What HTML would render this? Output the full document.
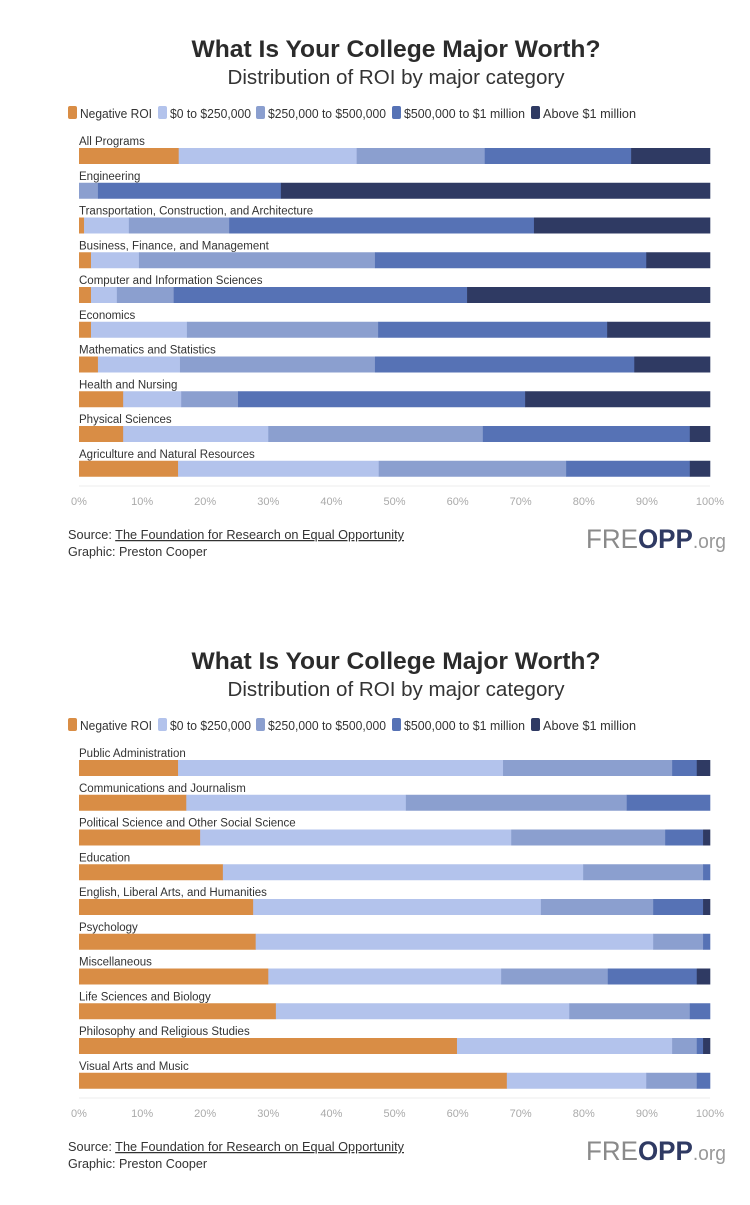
<!DOCTYPE html>
<html><head><meta charset="utf-8"><style>
html,body{margin:0;padding:0;background:#fff;}
body{width:750px;height:1200px;overflow:hidden;font-family:"Liberation Sans",sans-serif;}
</style></head><body>
<svg id="root" width="750" height="1200" xmlns="http://www.w3.org/2000/svg"></svg>
<script>
const colors = ["#d98d45","#b3c3ec","#8b9fcf","#5672b5","#2f3a63"];
const legendLabels = ["Negative ROI","$0 to $250,000","$250,000 to $500,000","$500,000 to $1 million","Above $1 million"];
const ticks = [0,10,20,30,40,50,60,70,80,90,100];

const cats1 = ["All Programs","Engineering","Transportation, Construction, and Architecture","Business, Finance, and Management","Computer and Information Sciences","Economics","Mathematics and Statistics","Health and Nursing","Physical Sciences","Agriculture and Natural Resources"];
const neg1 = [15.8,0,0.8,1.9,1.9,1.9,3,7,7,15.7];
const low1 = [28.2,0,7.1,7.6,4.1,15.2,13,9.2,23,31.8];
const mid1 = [20.3,3,15.9,37.4,9,30.3,30.9,9,34,29.7];
const high1 = [23.2,29,48.3,43,46.5,36.3,41.1,45.5,32.8,19.6];
const top1 = [12.5,68,27.9,10.1,38.5,16.3,12,29.3,3.2,3.2];

const cats2 = ["Public Administration","Communications and Journalism","Political Science and Other Social Science","Education","English, Liberal Arts, and Humanities","Psychology","Miscellaneous","Life Sciences and Biology","Philosophy and Religious Studies","Visual Arts and Music"];
const neg2 = [15.7,17,19.2,22.8,27.6,28,30,31.2,59.9,67.8];
const low2 = [51.5,34.8,49.3,57.1,45.6,63,36.9,46.5,34.1,22.1];
const mid2 = [26.8,35,24.4,19,17.8,7.9,16.9,19.1,3.9,8];
const high2 = [3.9,13.2,6,1.1,7.9,1.1,14.1,3.2,1,2.1];
const top2 = [2.1,0,1.1,0,1.1,0,2.1,0,1.1,0];

const NS="http://www.w3.org/2000/svg";
const root=document.getElementById('root');
function mk(tag,attrs,parent){const e=document.createElementNS(NS,tag);for(const k in attrs)e.setAttribute(k,attrs[k]);(parent||root).appendChild(e);return e;}
const x0=79,x1=710;
function xs(v){return x0+(x1-x0)*v/100;}

function drawChart(oy,cats,series,id){
  const g=mk('g',{});
  
  
  let t=mk('text',{x:396,y:oy+57,'text-anchor':'middle','font-size':'24','font-weight':'bold',fill:'#2b2b2b','textLength':'409','lengthAdjust':'spacingAndGlyphs'},g);
  t.textContent="What Is Your College Major Worth?";
  
  
  t=mk('text',{x:396,y:oy+84,'text-anchor':'middle','font-size':'20',fill:'#333','textLength':'337','lengthAdjust':'spacingAndGlyphs'},g);
  t.textContent="Distribution of ROI by major category";
  
  
  // legend
  const lx=[68,158,256,392,531], lw=[86,95,132,135,107];
  for(let i=0;i<5;i++){
    const lg=mk('g',{},g);
    
    
    mk('rect',{x:lx[i],y:oy+106,width:9,height:13,rx:2,fill:colors[i]},lg);
    const lt=mk('text',{x:lx[i]+12,y:oy+118,'font-size':'12.5',fill:'#333','textLength':lw[i]-14,'lengthAdjust':'spacingAndGlyphs'},lg);
    lt.textContent=legendLabels[i];
  }
  const by0=oy+148, pitch=34.75, bh=16;
  cats.forEach((c,r)=>{
    const by=by0+r*pitch;
    const lab=mk('text',{x:79,y:by-3,'font-size':'11.5',fill:'#333'},g);
    lab.textContent=c;
    
    
    let acc=0;
    series.forEach((s,i)=>{
      const v=s[r]; if(v<=0) return;
      const rc=mk('rect',{x:xs(acc),y:by,width:xs(acc+v)-xs(acc)+0.3,height:bh,fill:colors[i]},g);
      
      
      acc+=v;
    });
  });
  mk('line',{x1:x0,x2:x1,y1:oy+486,y2:oy+486,stroke:'#eee','stroke-width':1},g);
  ticks.forEach(tk=>{
    const tt=mk('text',{x:xs(tk),y:oy+505,'text-anchor':'middle','font-size':'11',fill:'#aaa'},g);
    tt.textContent=tk+"%";
    
    
  });
  const s1=mk('text',{x:68,y:oy+539,'font-size':'12.5',fill:'#333'},g);
  
  
  s1.innerHTML='Source: <tspan text-decoration="underline">The Foundation for Research on Equal Opportunity</tspan>';
  s1.setAttribute('textLength','336');s1.setAttribute('lengthAdjust','spacingAndGlyphs');
  const s2=mk('text',{x:68,y:oy+556,'font-size':'12.5',fill:'#333','textLength':'139','lengthAdjust':'spacingAndGlyphs'},g);
  s2.textContent="Graphic: Preston Cooper";
  
  
  const logo=mk('text',{x:586,y:oy+548,'font-size':'27',fill:'#777','textLength':'140','lengthAdjust':'spacingAndGlyphs'},g);
  
  
  logo.innerHTML='<tspan font-weight="normal" fill="#8a8a8a">FRE</tspan><tspan font-weight="bold" fill="#2f3a63">OPP</tspan><tspan fill="#999" font-size="20">.org</tspan>';
}
drawChart(0,cats1,[neg1,low1,mid1,high1,top1],'chart-top');
drawChart(612,cats2,[neg2,low2,mid2,high2,top2],'chart-bottom');
</script>
</body></html>
